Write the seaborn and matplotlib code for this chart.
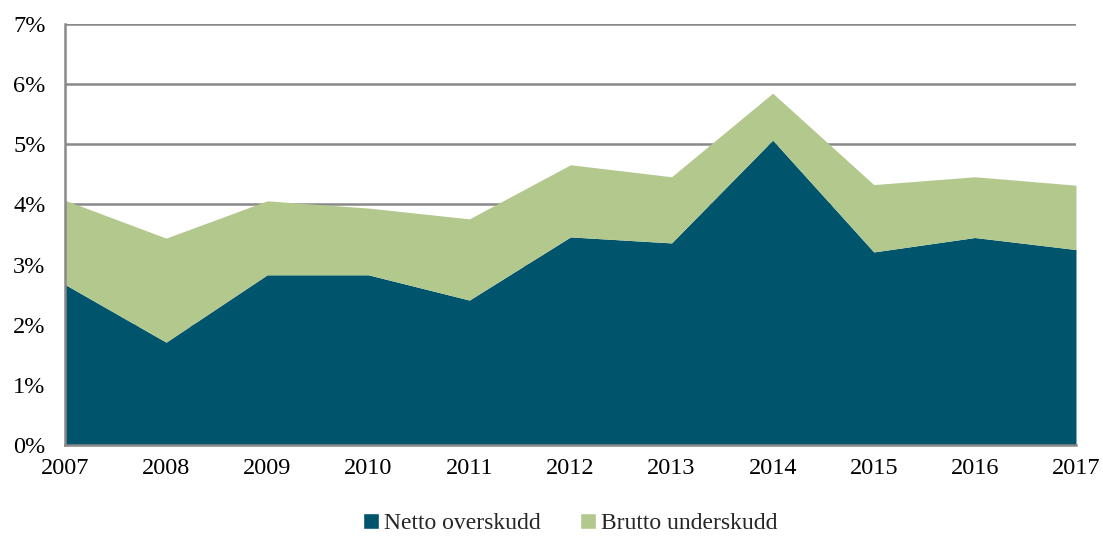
import seaborn as sns
import matplotlib.pyplot as plt
import pandas as pd
from matplotlib.patches import Patch
from matplotlib.ticker import PercentFormatter

years = [2007, 2008, 2009, 2010, 2011, 2012, 2013, 2014, 2015, 2016, 2017]
netto = [2.67, 1.71, 2.83, 2.83, 2.41, 3.46, 3.36, 5.07, 3.21, 3.45, 3.25]
total = [4.07, 3.44, 4.06, 3.94, 3.76, 4.66, 4.46, 5.85, 4.33, 4.46, 4.32]
brutto = [t - n for t, n in zip(total, netto)]

labels = ["Netto overskudd", "Brutto underskudd"]
colors = ["#00546c", "#b3c88d"]

df = pd.concat([
    pd.DataFrame({"year": years, "value": netto, "serie": labels[0]}),
    pd.DataFrame({"year": years, "value": brutto, "serie": labels[1]}),
])

sns.set_style("white")
plt.rcParams["font.family"] = ["Liberation Serif", "DejaVu Serif"]

fig = plt.figure(figsize=(11.03, 5.37), dpi=100)
ax = fig.add_axes([0.0589, 0.1713, 0.9166, 0.784])

# seaborn stacks the first hue level on top, so reverse the order
sns.histplot(data=df, x="year", weights="value", hue="serie",
             hue_order=labels[::-1], palette=dict(zip(labels, colors)),
             multiple="stack", element="poly", discrete=True,
             alpha=1, linewidth=0, legend=False, ax=ax)

ax.set_xlim(2007, 2017)
ax.set_ylim(0, 7)
ax.set_xticks(years)
ax.set_yticks(range(0, 8))
ax.yaxis.set_major_formatter(PercentFormatter(decimals=0))
ax.set_xlabel("")
ax.set_ylabel("")
ax.grid(axis="y", color="#898989", linewidth=1.8)
ax.set_axisbelow(True)
for side in ["top", "right"]:
    ax.spines[side].set_visible(False)
for side in ["left", "bottom"]:
    ax.spines[side].set_color("#898989")
    ax.spines[side].set_linewidth(1.8)
ax.tick_params(axis="both", direction="out", length=5, width=1.2,
               color="#898989", labelsize=17.5, labelcolor="black")
ax.tick_params(axis="y", pad=9)
ax.tick_params(axis="x", pad=4)

handles = [Patch(facecolor=c, label=l) for c, l in zip(colors, labels)]
fig.legend(handles=handles, loc="center", bbox_to_anchor=(0.517, 0.025),
           ncol=2, frameon=False, fontsize=17, handlelength=0.65,
           handleheight=0.65, handletextpad=0.2, columnspacing=1.7)

fig.savefig("out.png", dpi=100)
